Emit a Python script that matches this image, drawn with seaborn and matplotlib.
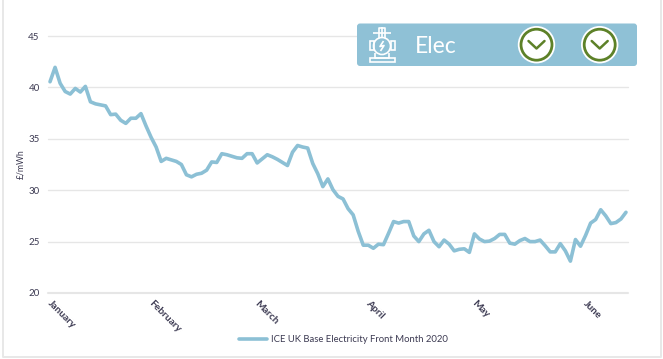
import matplotlib
matplotlib.use("Agg")
import matplotlib.pyplot as plt
import matplotlib.transforms as mtrans
import seaborn as sns
from matplotlib.patches import Circle, FancyBboxPatch, Rectangle

# ICE UK base electricity front month, one value per trading day
prices = [
    40.55, 41.95, 40.4, 39.6, 39.35, 39.9, 39.55, 40.1, 38.6, 38.4,
    38.3, 38.2, 37.35, 37.4, 36.8, 36.5, 37.0, 37.0, 37.45, 36.25,
    35.15, 34.2, 32.8, 33.1, 32.95, 32.8, 32.5, 31.5, 31.3, 31.55,
    31.65, 31.95, 32.75, 32.7, 33.55, 33.45, 33.3, 33.15, 33.1, 33.55,
    33.55, 32.65, 33.05, 33.45, 33.25, 33.0, 32.7, 32.4, 33.7, 34.35,
    34.2, 34.1, 32.6, 31.6, 30.35, 31.1, 30.05, 29.4, 29.15, 28.2,
    27.6, 26.0, 24.65, 24.65, 24.35, 24.75, 24.7, 25.8, 26.95, 26.8,
    26.95, 26.95, 25.55, 25.0, 25.75, 26.1, 25.0, 24.5, 25.15, 24.75,
    24.1, 24.25, 24.3, 23.95, 25.75, 25.25, 25.0, 25.05, 25.3, 25.7,
    25.7, 24.85, 24.75, 25.1, 25.3, 25.0, 25.0, 25.15, 24.6, 24.0,
    24.0, 24.8, 24.1, 23.1, 25.2, 24.55, 25.6, 26.8, 27.15, 28.1,
    27.5, 26.75, 26.85, 27.2, 27.85,
]
days = list(range(len(prices)))

months = ["January", "February", "March", "April", "May", "June"]
month_starts = [0, 20, 41, 63, 84, 106]
y_ticks = [20, 25, 30, 35, 40, 45]
series_name = "ICE UK Base Electricity Front Month 2020"

W, H = 663, 359
LINE = "#8cc0d5"
PANEL = "#8fc1d6"
GREEN = "#5d8128"
INK = "#3c3a52"

sns.set_theme(style="whitegrid")
plt.rcParams["font.family"] = ["Lato", "DejaVu Sans"]

fig = plt.figure(figsize=(W / 100, H / 100), dpi=100, facecolor="white")
ax = fig.add_axes([48 / W, 1 - 293 / H, 580 / W, 257 / H])

sns.lineplot(x=days, y=prices, ax=ax, color=LINE, linewidth=2.6, label=series_name)

ax.set_xlim(-0.4, len(prices) - 1 + 0.4)
ax.set_ylim(20, 45)
ax.set_yticks(y_ticks)
ax.set_xticks(month_starts)
ax.set_xticklabels(months, rotation=-45, ha="left", va="top", rotation_mode="anchor",
                   fontsize=7.3, fontweight="bold", color=INK)
ax.tick_params(axis="x", length=0, pad=4)
ax.tick_params(axis="y", length=0, pad=6, labelsize=7, labelcolor=INK)
# month labels sit a little right of their tick
shift = mtrans.ScaledTranslation(2 / 100, 0, fig.dpi_scale_trans)
for lab in ax.get_xticklabels():
    lab.set_transform(lab.get_transform() + shift)
ax.grid(axis="x", visible=False)
ax.grid(axis="y", color="#e6e6e6", linewidth=1)
# bottom gridline sits on the axes edge, don't let it get clipped
for gl in ax.get_ygridlines():
    gl.set_clip_on(False)
ax.get_ygridlines()[0].set_linewidth(1.5)
sns.despine(ax=ax, left=True, bottom=True)
ax.set_xlabel("")
ax.set_ylabel("£/mWh", fontsize=6.2, color=INK)
ax.yaxis.set_label_coords(-23 / 580, 0.5)

ax.legend(loc="center", bbox_to_anchor=(343 / W, 1 - 340 / H), bbox_transform=fig.transFigure,
          frameon=False, fontsize=6.8, labelcolor=INK, handlelength=3.0, handletextpad=0.4)

# overlay in pixel coordinates for the card border and the selector panel
over = fig.add_axes([0, 0, 1, 1], facecolor="none")
over.set_xlim(0, W)
over.set_ylim(H, 0)
over.axis("off")

over.plot([2.5, 2.5, 661, 661], [0, 356.5, 356.5, 0], color="#e8e8e8", linewidth=1.4)
over.add_patch(FancyBboxPatch((357, 23.5), 280, 42.5, boxstyle="round,pad=0,rounding_size=3",
                              facecolor=PANEL, edgecolor="none"))
over.text(414.5, 46.5, "Elec", color="white", fontsize=16.5, va="center", ha="left")

# dropdown buttons
for cx in [536.5, 599.7]:
    over.add_patch(Circle((cx, 44.7), 18.7, facecolor="white", edgecolor="none"))
    over.add_patch(Circle((cx, 44.7), 15.5, facecolor="white", edgecolor=GREEN, linewidth=2))
    over.plot([cx - 8, cx, cx + 8], [41, 48.5, 41], color=GREEN, linewidth=1.8)

# transformer icon
ic = dict(color="white", linewidth=1.2, solid_capstyle="butt")
over.add_patch(Circle((382, 46), 8.5, facecolor="none", edgecolor="white", linewidth=1.2))
over.plot([379, 379, 385, 385], [38, 28, 28, 38], **ic)
over.plot([382, 382], [27, 38], **ic)
over.plot([373, 391], [33, 33], **ic)
over.plot([383.5, 380, 384, 380.5], [41, 46.5, 45.5, 51], **ic)
over.add_patch(Rectangle((369.5, 41), 4, 9, facecolor="none", edgecolor="white", linewidth=1.2))
over.add_patch(Rectangle((390.5, 41), 4, 9, facecolor="none", edgecolor="white", linewidth=1.2))
over.plot([375, 375, 389, 389], [53, 58, 58, 53], **ic)
over.add_patch(Rectangle((369.5, 58), 25, 4, facecolor="none", edgecolor="white", linewidth=1.2))

fig.savefig("out.png", dpi=100)
